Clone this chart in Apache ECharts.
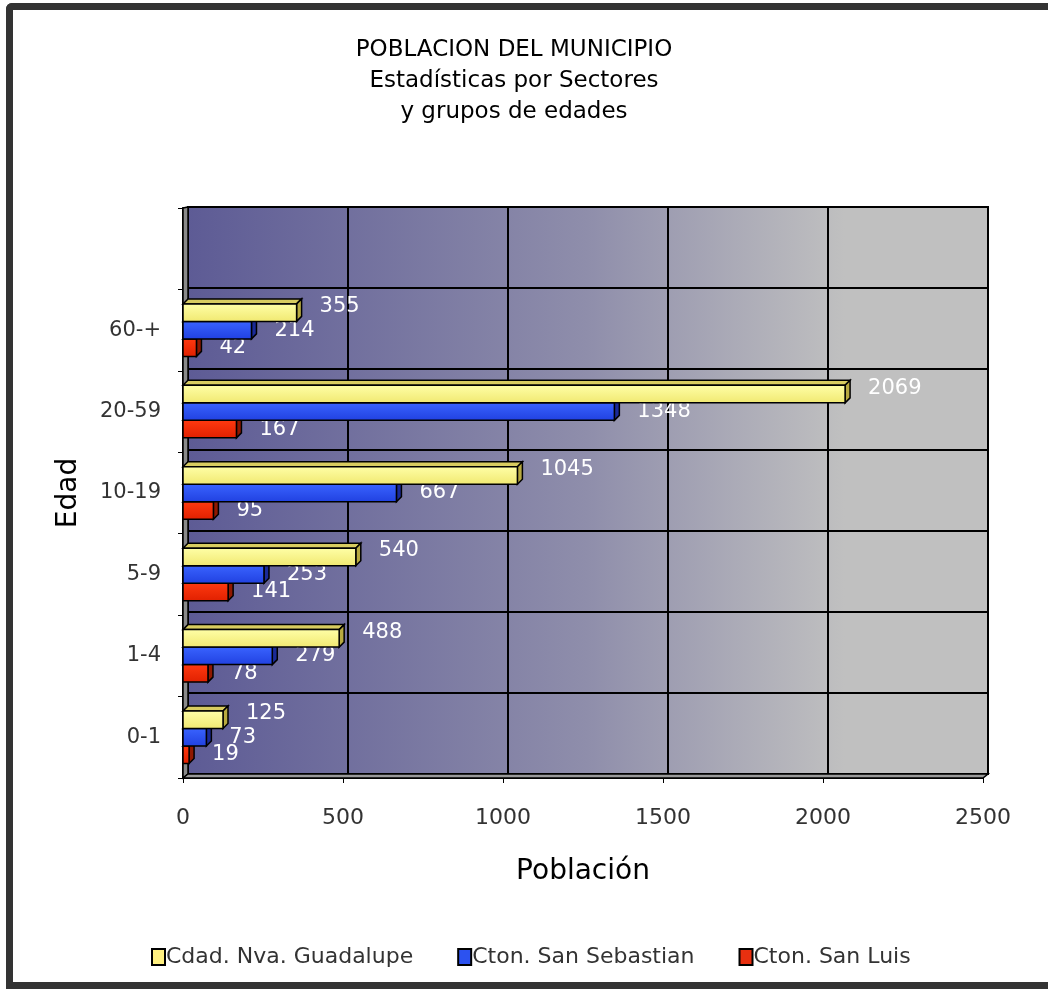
<!DOCTYPE html>
<html>
<head>
<meta charset="utf-8">
<script src="https://cdn.jsdelivr.net/npm/echarts@6/dist/echarts.min.js"></script>
<style>
html,body{margin:0;padding:0;background:#fff;width:1048px;height:989px;overflow:hidden;}
#frame{position:absolute;left:6px;top:3px;width:1060px;height:972px;border-left:7px solid #333;border-top:7px solid #333;border-bottom:7px solid #333;border-top-left-radius:6px;}
#chart{position:absolute;left:0;top:0;width:1048px;height:989px;}
</style>
</head>
<body>
<div id="frame"></div>
<div id="chart"></div>
<script>
const categories = ['0-1', '1-4', '5-9', '10-19', '20-59', '60-+', ''];
const seriesNames = ['Cdad. Nva. Guadalupe', 'Cton. San Sebastian', 'Cton. San Luis'];
const guadalupe = [125, 488, 540, 1045, 2069, 355];
const sebastian = [73, 279, 253, 667, 1348, 214];
const sanLuis = [19, 78, 141, 95, 167, 42];
const xTicks = [0, 500, 1000, 1500, 2000, 2500];

const FONT = 'DejaVu Sans';
// layout constants
const FRONT = {left: 183, top: 208, width: 800, height: 570};
const DX = 5, DY = 4;
const palette = [
  {front: ['#ffffa8', '#f0e870'], top: '#d8cc60', side: '#b8aa40', legend: '#fff080', dy: -6},
  {front: ['#3a64ff', '#2040e0'], top: '#2a48c8', side: '#1a2a98', legend: '#2c52f0', dy: 0},
  {front: ['#ff3a10', '#e02000'], top: '#c02808', side: '#901800', legend: '#e83010', dy: 0}
];

function makeRender(idx) {
  return function (params, api) {
    const v = api.value(0), c = api.value(1);
    const p0 = api.coord([0, c]);
    const p1 = api.coord([v, c]);
    const band = api.size([0, 1])[1];
    const bh = band * 0.215;
    const d = 5;
    const top = p0[1] - 1.5 * bh + idx * bh;
    const x0 = p0[0], x1 = p1[0];
    const pal = palette[idx];
    const stroke = {stroke: '#000', lineWidth: 1.5};
    return {
      type: 'group',
      children: [
        {type: 'polygon', shape: {points: [[x0, top], [x1, top], [x1 + d, top - d], [x0 + d, top - d]]},
         style: Object.assign({fill: pal.top}, stroke)},
        {type: 'polygon', shape: {points: [[x1, top], [x1 + d, top - d], [x1 + d, top + bh - d], [x1, top + bh]]},
         style: Object.assign({fill: pal.side}, stroke)},
        {type: 'rect', shape: {x: x0, y: top, width: x1 - x0, height: bh},
         style: Object.assign({fill: {type: 'linear', x: 0, y: 0, x2: 0, y2: 1,
           colorStops: [{offset: 0, color: pal.front[0]}, {offset: 1, color: pal.front[1]}]}}, stroke)},
        {type: 'text', style: {x: x1 + d + 18, y: top + bh / 2 + pal.dy, text: String(v),
          fill: '#fff', font: '21px "' + FONT + '"', verticalAlign: 'middle', align: 'left'}, z2: 10}
      ]
    };
  };
}

const datasets = [guadalupe, sebastian, sanLuis];
const series = datasets.map(function (arr, i) {
  return {
    type: 'custom',
    name: seriesNames[i],
    renderItem: makeRender(i),
    xAxisIndex: 0, yAxisIndex: 0,
    encode: {x: 0, y: 1},
    z: 10 - i,
    itemStyle: {color: palette[i].legend, borderColor: '#000', borderWidth: 2},
    data: arr.map(function (v, c) { return [v, c]; })
  };
});

const F = FRONT;
const leftWall = [[F.left, F.top], [F.left + DX, F.top - 1], [F.left + DX, F.top + F.height - DY], [F.left, F.top + F.height]];
const floor = [[F.left, F.top + F.height], [F.left + DX, F.top + F.height - DY], [F.left + F.width + DX, F.top + F.height - DY], [F.left + F.width, F.top + F.height]];

const chart = echarts.init(document.getElementById('chart'), null, {renderer: 'canvas'});
chart.setOption({
  backgroundColor: 'transparent',
  animation: false,
  textStyle: {fontFamily: FONT},
  title: {
    text: 'POBLACION DEL MUNICIPIO\nEstadísticas por Sectores\ny grupos de edades',
    left: 509, top: 30, textAlign: 'center',
    textStyle: {fontFamily: FONT, fontSize: 23, fontWeight: 'normal', color: '#000', lineHeight: 31}
  },
  legend: {
    top: 941, left: 146,
    itemWidth: 13, itemHeight: 16, itemGap: 44,
    icon: 'rect',
    textStyle: {fontFamily: FONT, fontSize: 22, color: '#333', padding: [0, 0, 0, -4]},
    data: seriesNames
  },
  graphic: [
    {type: 'polygon', z: 5, shape: {points: leftWall}, style: {fill: '#8a8a8a', stroke: '#000', lineWidth: 1.5}},
    {type: 'polygon', z: 5, shape: {points: floor}, style: {fill: '#9a9a9a', stroke: '#000', lineWidth: 1.5}}
  ],
  grid: [
    {left: F.left, top: F.top, width: F.width, height: F.height, show: false},
    {left: F.left + DX, top: F.top - 1, width: F.width, height: F.height - DY + 1,
     show: true, borderColor: '#000', borderWidth: 2,
     backgroundColor: {type: 'linear', x: 0, y: 0, x2: 1, y2: 0,
       colorStops: [{offset: 0, color: '#5d5b95'}, {offset: 0.5, color: '#8f8eab'}, {offset: 0.82, color: '#c0c0c0'}, {offset: 1, color: '#c0c0c0'}]}}
  ],
  xAxis: [{
    gridIndex: 0, type: 'value', min: 0, max: 2500, interval: 500,
    name: 'Población', nameLocation: 'middle', nameGap: 80,
    nameTextStyle: {fontFamily: FONT, fontSize: 28, color: '#000'},
    axisLine: {show: true, lineStyle: {color: '#000', width: 2}},
    axisTick: {show: true, length: 5, lineStyle: {color: '#000'}},
    axisLabel: {fontFamily: FONT, fontSize: 22, color: '#333', margin: 29,
      formatter: function (v) { return xTicks.indexOf(v) >= 0 ? String(v) : ''; }},
    splitLine: {show: false}
  }, {
    gridIndex: 1, type: 'value', min: 0, max: 2500, interval: 500,
    axisLine: {show: false}, axisTick: {show: false}, axisLabel: {show: false},
    splitLine: {show: true, lineStyle: {color: '#000', width: 2}}
  }],
  yAxis: [{
    gridIndex: 0, type: 'category', data: categories,
    name: 'Edad', nameLocation: 'middle', nameGap: 100, nameRotate: 90,
    nameTextStyle: {fontFamily: FONT, fontSize: 28, color: '#000'},
    axisLine: {show: true, lineStyle: {color: '#000', width: 2}},
    axisTick: {show: true, length: 5, lineStyle: {color: '#000'}},
    axisLabel: {fontFamily: FONT, fontSize: 21, color: '#333', margin: 22},
    splitLine: {show: false}
  }, {
    gridIndex: 1, type: 'category', data: categories,
    axisLine: {show: false}, axisTick: {show: false}, axisLabel: {show: false},
    splitLine: {show: true, lineStyle: {color: '#000', width: 2}}
  }],
  series: series
});
</script>
</body>
</html>
